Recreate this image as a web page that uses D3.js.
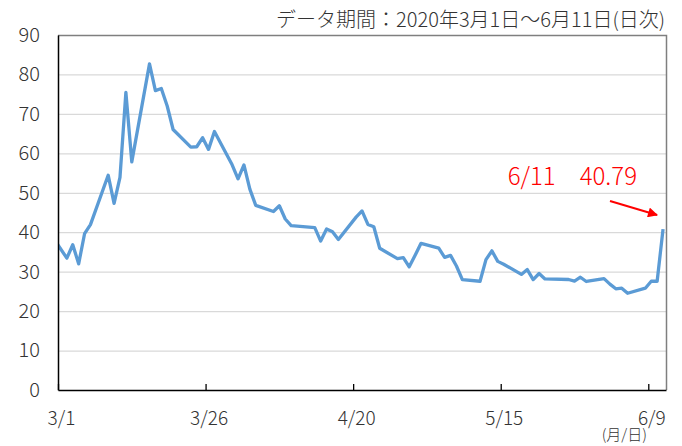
<!DOCTYPE html>
<html>
<head>
<meta charset="utf-8">
<script src="https://cdn.jsdelivr.net/npm/d3@7"></script>
<style>
  body { margin: 0; background: #fff; }
  svg { display: block; font-family: "Noto Sans CJK JP", "Noto Sans", sans-serif; font-weight: 300; }
</style>
</head>
<body>
<svg id="chart" width="682" height="446"></svg>
<script>
// daily closes, 2020 (2/28 is kept so the line enters the frame at 3/1)
const dates = [
  "2020-02-28",
  "2020-03-02","2020-03-03","2020-03-04","2020-03-05","2020-03-06",
  "2020-03-09","2020-03-10","2020-03-11","2020-03-12","2020-03-13",
  "2020-03-16","2020-03-17","2020-03-18","2020-03-19","2020-03-20",
  "2020-03-23","2020-03-24","2020-03-25","2020-03-26","2020-03-27",
  "2020-03-30","2020-03-31","2020-04-01","2020-04-02","2020-04-03",
  "2020-04-06","2020-04-07","2020-04-08","2020-04-09",
  "2020-04-13","2020-04-14","2020-04-15","2020-04-16","2020-04-17",
  "2020-04-20","2020-04-21","2020-04-22","2020-04-23","2020-04-24",
  "2020-04-27","2020-04-28","2020-04-29","2020-04-30","2020-05-01",
  "2020-05-04","2020-05-05","2020-05-06","2020-05-07","2020-05-08",
  "2020-05-11","2020-05-12","2020-05-13","2020-05-14","2020-05-15",
  "2020-05-18","2020-05-19","2020-05-20","2020-05-21","2020-05-22",
  "2020-05-26","2020-05-27","2020-05-28","2020-05-29",
  "2020-06-01","2020-06-02","2020-06-03","2020-06-04","2020-06-05",
  "2020-06-08","2020-06-09","2020-06-10","2020-06-11"
];
const values = [
  40.11,
  33.42, 36.82, 31.99, 39.62, 41.94,
  54.46, 47.30, 53.90, 75.47, 57.83,
  82.69, 75.91, 76.45, 72.00, 66.04,
  61.59, 61.67, 63.95, 61.00, 65.54,
  57.08, 53.54, 57.06, 50.91, 46.80,
  45.24, 46.70, 43.35, 41.67,
  41.17, 37.76, 40.84, 40.11, 38.15,
  43.83, 45.41, 41.98, 41.38, 35.93,
  33.29, 33.57, 31.23, 34.15, 37.19,
  35.97, 33.61, 34.12, 31.44, 27.98,
  27.57, 33.04, 35.28, 32.61, 31.89,
  29.30, 30.53, 27.99, 29.53, 28.16,
  28.01, 27.62, 28.59, 27.51,
  28.23, 26.84, 25.66, 25.81, 24.52,
  25.81, 27.57, 27.57, 40.79
];
const xTickDates = ["2020-03-01","2020-03-26","2020-04-20","2020-05-15","2020-06-09"];
const xTickLabels = ["3/1","3/26","4/20","5/15","6/9"];
const yTicks = [0,10,20,30,40,50,60,70,80,90];

const titleText = "データ期間：2020年3月1日～6月11日(日次)";
const unitText = "(月/日)";
const noteText = "6/11　40.79";

const parseDay = d3.timeParse("%Y-%m-%d");
const noon = d => d3.timeHour.offset(parseDay(d), 12);

const margin = { top: 35, right: 16, bottom: 56, left: 58 };
const W = 682, H = 446;

const svg = d3.select("#chart");

const x = d3.scaleTime()
  .domain([parseDay("2020-03-01"), parseDay("2020-06-12")])
  .range([margin.left, W - margin.right]);

const y = d3.scaleLinear()
  .domain([0, 90])
  .range([H - margin.bottom, margin.top]);

// gridlines
svg.append("g")
  .selectAll("line")
  .data(yTicks.filter(v => v > 0 && v < 90))
  .join("line")
  .attr("x1", x.range()[0]).attr("x2", x.range()[1])
  .attr("y1", d => y(d) + 0.5).attr("y2", d => y(d) + 0.5)
  .attr("stroke", "#d9d9d9").attr("stroke-width", 1.3);

// frame: top and right in gray
svg.append("path")
  .attr("d", `M${x.range()[0]},${y(90) + 0.5}H${x.range()[1] + 0.5}V${y(0)}`)
  .attr("fill", "none")
  .attr("stroke", "#7f7f7f").attr("stroke-width", 1.5);

// the line, clipped to the plot
svg.append("clipPath").attr("id", "plot")
  .append("rect")
  .attr("x", x.range()[0]).attr("y", y(90))
  .attr("width", x.range()[1] - x.range()[0])
  .attr("height", y(0) - y(90));

const data = dates.map((d, i) => ({ date: noon(d), value: values[i] }));

const line = d3.line()
  .x(d => x(d.date))
  .y(d => y(d.value));

svg.append("path")
  .datum(data)
  .attr("clip-path", "url(#plot)")
  .attr("d", line)
  .attr("fill", "none")
  .attr("stroke", "#5b9bd5")
  .attr("stroke-width", 3.3)
  .attr("stroke-linejoin", "round");

// y axis
const yAxis = svg.append("g")
  .attr("transform", `translate(${margin.left},0)`)
  .call(d3.axisLeft(y).tickValues(yTicks).tickSize(0).tickPadding(18));
yAxis.select(".domain").attr("stroke", "#000").attr("stroke-width", 1.5);
yAxis.selectAll("text")
  .attr("font-size", 20).attr("fill", "#333")
  .attr("font-family", "'Noto Sans CJK JP', sans-serif");

// x axis, ticks pointing inward
const xAxis = svg.append("g")
  .attr("transform", `translate(0,${y(0)})`)
  .call(d3.axisBottom(x)
    .tickValues(xTickDates.map(parseDay))
    .tickFormat((d, i) => xTickLabels[i])
    .tickSizeInner(-6).tickSizeOuter(0).tickPadding(22));
xAxis.select(".domain").attr("stroke", "#000").attr("stroke-width", 1.5);
xAxis.selectAll(".tick line").attr("stroke", "#000").attr("stroke-width", 1.3);
xAxis.selectAll("text")
  .attr("font-size", 19).attr("fill", "#333").attr("dx", 3)
  .attr("font-family", "'Noto Sans CJK JP', sans-serif");

// unit
svg.append("text")
  .attr("x", 647).attr("y", 440)
  .attr("text-anchor", "end")
  .attr("font-size", 15).attr("fill", "#333")
  .text(unitText);

// title
svg.append("text")
  .attr("x", 665).attr("y", 27)
  .attr("text-anchor", "end")
  .attr("font-size", 20).attr("fill", "#333")
  .text(titleText);

// annotation for the last point
const last = data[data.length - 1];
svg.append("text")
  .attr("x", 637).attr("y", 185)
  .attr("text-anchor", "end")
  .attr("font-size", 24).attr("fill", "#ff0000")
  .text(noteText);

svg.append("defs").append("marker")
  .attr("id", "head")
  .attr("viewBox", "0 0 10 10")
  .attr("refX", 9).attr("refY", 5)
  .attr("markerWidth", 6).attr("markerHeight", 5)
  .attr("markerUnits", "strokeWidth")
  .attr("orient", "auto")
  .append("path")
  .attr("d", "M0,0L10,5L0,10z")
  .attr("fill", "#ff0000");

svg.append("line")
  .attr("x1", 610).attr("y1", 201)
  .attr("x2", x(last.date) - 6).attr("y2", 215)
  .attr("stroke", "#ff0000").attr("stroke-width", 2)
  .attr("marker-end", "url(#head)");
</script>
</body>
</html>
